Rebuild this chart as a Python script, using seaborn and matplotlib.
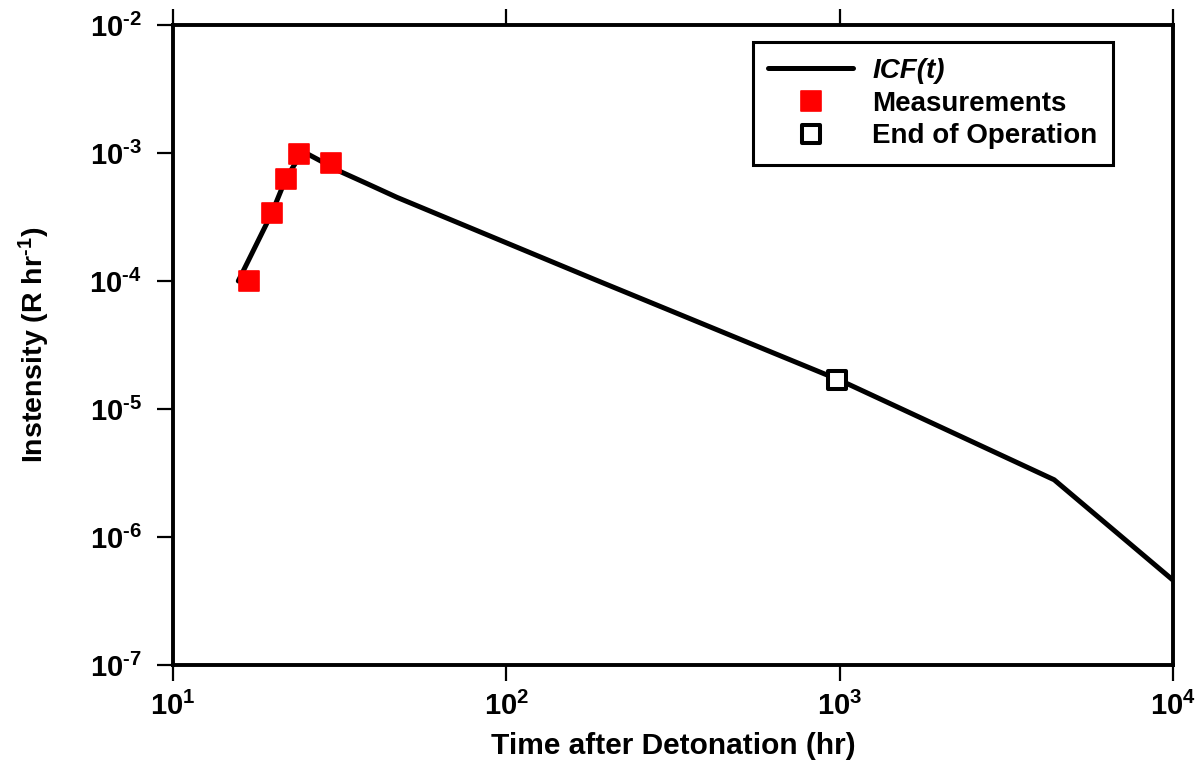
import matplotlib
matplotlib.use("Agg")
import matplotlib.pyplot as plt
import seaborn as sns
import numpy as np
import pandas as pd
from matplotlib.lines import Line2D
from matplotlib.markers import MarkerStyle
from matplotlib.ticker import FixedLocator, FixedFormatter, NullLocator

# ---- data ----
icf_time = [15.7, 19.8, 21.8, 24.5, 32.0, 38.0, 47.0, 182.0, 1000.0, 4400.0, 10000.0]
icf_intensity = [1.0e-4, 3.4e-4, 6.3e-4, 1.03e-3, 7.1e-4, 5.8e-4, 4.5e-4, 1.04e-4, 1.68e-5, 2.8e-6, 4.6e-7]

meas_time = [16.9, 19.8, 21.8, 23.9, 29.8]
meas_intensity = [1.0e-4, 3.4e-4, 6.3e-4, 9.8e-4, 8.4e-4]

end_time = [985.0]
end_intensity = [1.68e-5]

x_ticks = [10, 100, 1000, 10000]
x_tick_labels = [r"$10^{1}$", r"$10^{2}$", r"$10^{3}$", r"$10^{4}$"]
y_ticks = [1e-7, 1e-6, 1e-5, 1e-4, 1e-3, 1e-2]
y_tick_labels = [r"$10^{\text{-}7}$", r"$10^{\text{-}6}$", r"$10^{\text{-}5}$",
                 r"$10^{\text{-}4}$", r"$10^{\text{-}3}$", r"$10^{\text{-}2}$"]

legend_labels = ["ICF(t)", "Measurements", "End of Operation"]
x_label = "Time after Detonation (hr)"
y_label = r"Instensity (R hr$^{\text{-}1}$)"

# ---- style ----
sns.set_theme(style="white")
plt.rcParams["font.family"] = ["Liberation Sans", "DejaVu Sans"]
plt.rcParams["font.weight"] = "bold"
plt.rcParams["text.color"] = "black"
plt.rcParams["axes.labelcolor"] = "black"
plt.rcParams["mathtext.fontset"] = "custom"
plt.rcParams["mathtext.rm"] = "Liberation Sans:bold"
plt.rcParams["mathtext.it"] = "Liberation Sans:bold:italic"
plt.rcParams["mathtext.bf"] = "Liberation Sans:bold"
plt.rcParams["mathtext.default"] = "rm"

fig = plt.figure(figsize=(12.02, 7.68), dpi=100)
ax = fig.add_axes([173/1202, 1-665/768, 1000/1202, 640/768])

df_line = pd.DataFrame({"t": icf_time, "I": icf_intensity})
df_meas = pd.DataFrame({"t": meas_time, "I": meas_intensity})
df_end = pd.DataFrame({"t": end_time, "I": end_intensity})

sq = MarkerStyle("s", joinstyle="round")

sns.lineplot(data=df_line, x="t", y="I", ax=ax, color="black", lw=3.6,
             sort=False, estimator=None)
ax.plot(df_meas["t"], df_meas["I"], ls="none", marker=sq, ms=14, mfc="red",
        mec="red", mew=1.2, zorder=5)
ax.plot(df_end["t"], df_end["I"], ls="none", marker=sq, ms=13, mfc="white",
        mec="black", mew=2.9, zorder=5)

ax.set_xscale("log")
ax.set_yscale("log")
ax.set_xlim(10, 10000)
ax.set_ylim(1e-7, 1e-2)

ax.xaxis.set_major_locator(FixedLocator(x_ticks))
ax.xaxis.set_major_formatter(FixedFormatter(x_tick_labels))
ax.yaxis.set_major_locator(FixedLocator(y_ticks))
ax.yaxis.set_major_formatter(FixedFormatter(y_tick_labels))
ax.xaxis.set_minor_locator(NullLocator())
ax.yaxis.set_minor_locator(NullLocator())

ax.tick_params(axis="both", which="major", direction="out", length=11.5, width=1.6,
               labelsize=21, colors="black")
ax.tick_params(axis="y", pad=11, left=True, right=False)
ax.tick_params(axis="x", pad=8, top=True, labeltop=False, bottom=True)

for s in ax.spines.values():
    s.set_linewidth(2.8)
    s.set_color("black")
    s.set_visible(True)

ax.set_xlabel(x_label, fontsize=21.5, fontweight="bold", labelpad=8)
ax.set_ylabel(y_label, fontsize=20.5, fontweight="bold", labelpad=27)

handles = [
    Line2D([], [], color="black", lw=3.6),
    Line2D([], [], ls="none", marker=sq, ms=14, mfc="red", mec="red", mew=1.2),
    Line2D([], [], ls="none", marker=sq, ms=13, mfc="white", mec="black", mew=2.9),
]
leg = ax.legend(handles, legend_labels, loc="upper right",
                bbox_to_anchor=(0.94, 0.973), borderaxespad=0,
                fancybox=False, frameon=True, edgecolor="black", framealpha=1,
                fontsize=20, handlelength=3.05, handletextpad=0.7,
                labelspacing=0.25, borderpad=0.55)
leg.get_frame().set_linewidth(2.2)
leg.get_texts()[0].set_fontstyle("italic")
for t in leg.get_texts():
    t.set_fontweight("bold")
    t.set_color("black")

fig.savefig("out.png", dpi=100, facecolor="white")
